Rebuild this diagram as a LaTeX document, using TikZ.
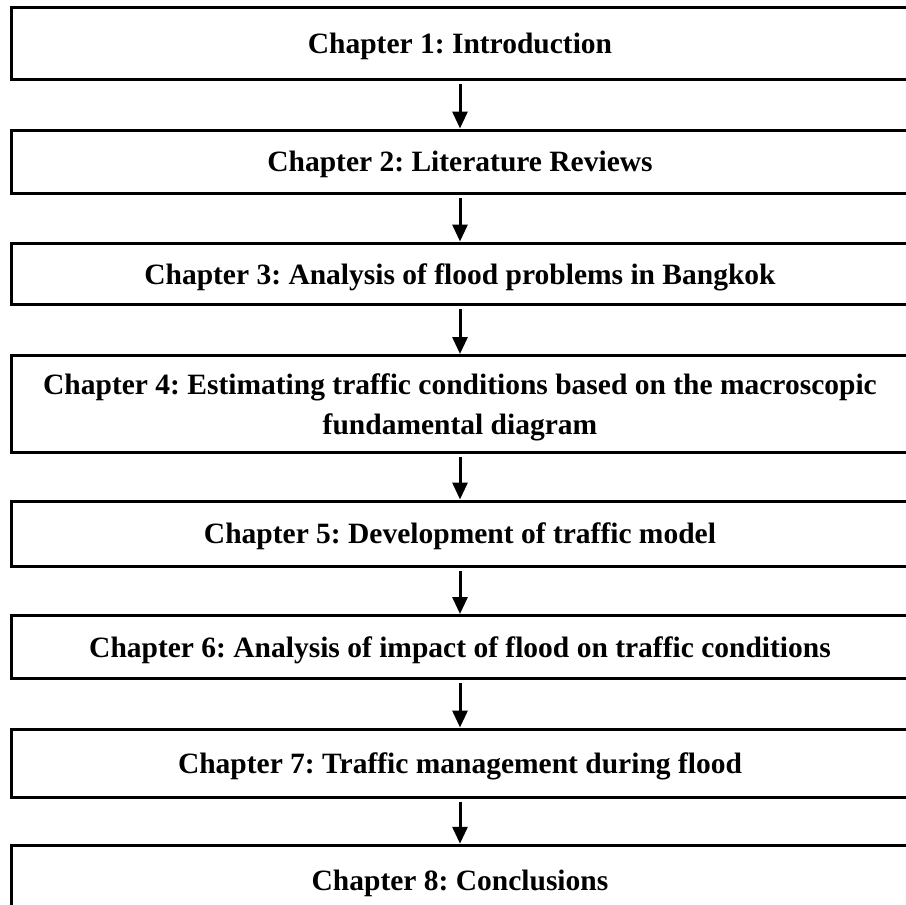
\documentclass[tikz,border=0pt]{standalone}
\usepackage{fontspec}
\setmainfont{Liberation Serif}
\usetikzlibrary{arrows.meta}

\tikzset{
  chapterbox/.style={draw=black, line width=3pt, minimum width=898pt,
    inner sep=0pt, align=center, text depth=0pt,
    font=\fontsize{29.5}{40}\selectfont\bfseries\frenchspacing},
  flowarrow/.style={line width=3pt, -{Triangle[length=17pt, width=15pt]}}
}

\begin{document}
\begin{tikzpicture}[x=1pt, y=-1pt]
  \useasboundingbox (0,0) rectangle (906,905);

  \node[chapterbox, minimum height=72pt]   (c1) at (460,43)     {Chapter 1: Introduction};
  \node[chapterbox, minimum height=63.5pt] (c2) at (460,161.75) {Chapter 2: Literature Reviews};
  \node[chapterbox, minimum height=61.5pt] (c3) at (460,273.75) {Chapter 3: Analysis of flood problems in Bangkok};
  \node[chapterbox, minimum height=96.5pt] (c4) at (460,403.75) {Chapter 4: Estimating traffic conditions based on the macroscopic\\fundamental diagram};
  \node[chapterbox, minimum height=65pt]   (c5) at (460,533.5)  {Chapter 5: Development of traffic model};
  \node[chapterbox, minimum height=63pt]   (c6) at (460,647)    {Chapter 6: Analysis of impact of flood on traffic conditions};
  \node[chapterbox, minimum height=68pt]   (c7) at (460,763)    {Chapter 7: Traffic management during flood};
  \node[chapterbox, minimum height=69.5pt] (c8) at (460,880)    {Chapter 8: Conclusions};

  \foreach \a/\b in {c1/c2, c2/c3, c3/c4, c4/c5, c5/c6, c6/c7, c7/c8}
    \draw[flowarrow] ([yshift=-3pt]\a.south) -- (\b.north);
\end{tikzpicture}
\end{document}
